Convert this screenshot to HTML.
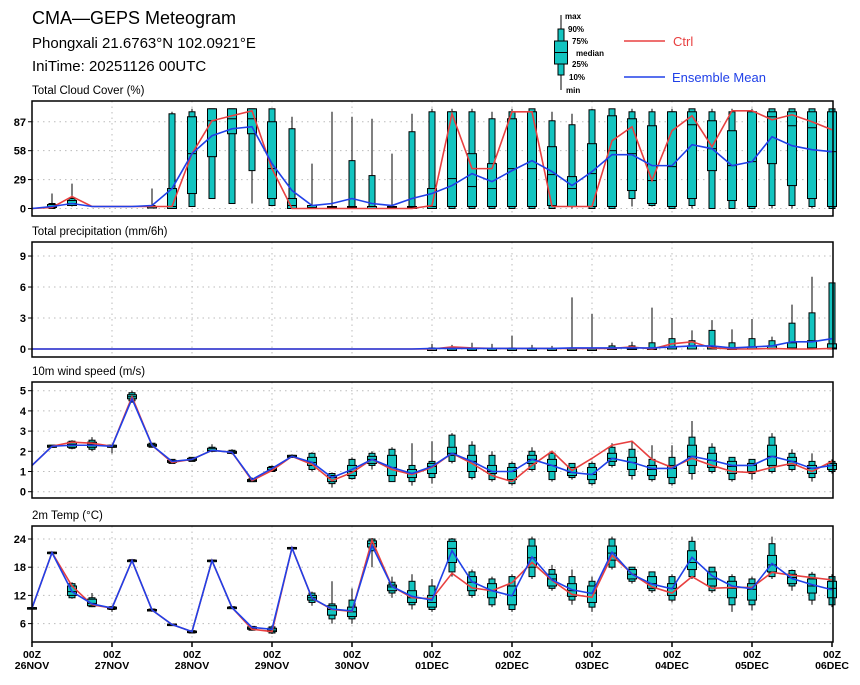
<!DOCTYPE html>
<html><head><meta charset="utf-8"><style>
body{margin:0;background:#fff}
svg text{font-family:"Liberation Sans",sans-serif}
</style></head><body>
<svg id="c" width="860" height="680" viewBox="0 0 860 680" xmlns="http://www.w3.org/2000/svg">
<g>
<text x="32" y="24" font-size="18">CMA—GEPS Meteogram</text>
<text x="32" y="48" font-size="15">Phongxali 21.6763°N 102.0921°E</text>
<text x="32" y="71" font-size="15">IniTime: 20251126 00UTC</text>
</g>
<g font-size="8" font-weight="bold">
<line x1="561" y1="15" x2="561" y2="90" stroke="#000"/>
<rect x="558" y="29" width="6" height="46" fill="#13c4c0" stroke="#000"/>
<rect x="554.5" y="41" width="13" height="23" fill="#13c4c0" stroke="#000"/>
<line x1="554.5" y1="52.5" x2="567.5" y2="52.5" stroke="#000"/>
<text x="565" y="19">max</text>
<text x="568" y="32">90%</text>
<text x="572" y="44">75%</text>
<text x="576" y="56">median</text>
<text x="572" y="67">25%</text>
<text x="569" y="80">10%</text>
<text x="566" y="93">min</text>
<line x1="624" y1="41" x2="665" y2="41" stroke="#e84040" stroke-width="1.5"/>
<text x="673" y="46" font-size="13" font-weight="normal" fill="#e84040">Ctrl</text>
<line x1="624" y1="77" x2="665" y2="77" stroke="#2040e8" stroke-width="1.5"/>
<text x="672" y="82" font-size="13" font-weight="normal" fill="#2040e8">Ensemble Mean</text>
</g>
</svg>
<script>
// ---- Data ----
const dayLabels = ["26NOV","27NOV","28NOV","29NOV","30NOV","01DEC","02DEC","03DEC","04DEC","05DEC","06DEC"];
const N = null;
const ccCtrl = [0,1,12,2,2,2,2,2,55,88,93,98,40,0,0,0,0,0,0,0,3,95,40,40,97,97,2,2,2,68,82,28,78,93,62,98,98,89,94,87,79];
const ccMean = [0,2,5,2,2,2,3,20,55,73,80,82,45,18,3,5,10,5,3,10,15,23,35,27,38,48,37,23,37,54,54,43,43,64,60,43,47,72,63,59,57];
const ccBox = [N,[0,0,1,2,4,5,15],[2,3,3,5,8,10,25],N,N,N,[2,2,2,2,2,3,20],[0,0,0,2,20,95,97],[2,2,15,55,92,97,100],[10,10,52,88,100,100,100],[5,5,75,90,100,100,100],[5,38,75,90,100,100,100],[3,3,10,40,87,100,100],[0,0,0,3,10,80,92],[0,0,0,1,3,3,45],[0,0,0,1,2,2,97],[0,0,0,1,2,48,92],[0,0,0,0,2,33,90],[0,0,0,1,2,2,55],[0,0,0,1,2,77,95],[0,0,0,2,20,97,100],[0,0,2,30,97,97,100],[0,0,2,22,55,97,100],[0,0,2,20,45,90,97],[0,0,2,40,90,97,100],[0,0,2,40,97,100,100],[0,0,3,34,62,88,97],[0,2,2,20,32,84,95],[0,0,2,35,65,99,100],[0,0,2,58,93,100,100],[2,10,18,55,90,97,100],[2,3,5,28,83,97,100],[0,0,2,42,97,97,100],[0,3,10,84,97,100,100],[0,0,38,60,88,97,100],[0,0,8,43,78,97,100],[0,0,2,47,97,97,100],[0,3,45,92,97,100,100],[0,3,23,83,97,100,100],[0,2,10,81,97,100,100],[0,0,2,57,97,100,100]];
const ccTicks = [0,29,58,87];

const prCtrl = [0,0,0,0,0,0,0,0,0,0,0,0,0,0,0,0,0,0,0,0,0,0.2,0.1,0.05,0.05,0.05,0.05,0.05,0.05,0.05,0.2,0,0.5,0.7,0.1,0,0,0.05,0,0,0.05];
const prMean = [0,0,0,0,0,0,0,0,0,0,0,0,0,0,0,0,0,0,0,0,0.05,0.05,0.05,0.05,0.05,0.05,0.05,0.1,0.1,0.1,0.1,0.1,0.2,0.3,0.3,0.1,0.2,0.3,0.7,0.7,1.0];
const prBox = [N,N,N,N,N,N,N,N,N,N,N,N,N,N,N,N,N,N,N,N,[0,0,0,0,0,0.1,0.5],[0,0,0,0,0,0.1,0.4],[0,0,0,0,0,0,0.6],[0,0,0,0,0,0,0.5],[0,0,0,0,0,0.1,1.3],[0,0,0,0,0,0.1,0.4],[0,0,0,0,0,0,0.3],[0,0,0,0,0,0.1,5.0],[0,0,0,0,0,0,3.4],[0,0,0,0,0.1,0.3,0.6],[0,0,0,0,0.1,0.3,0.7],[0,0,0,0,0.1,0.6,4.0],[0,0,0,0,0.2,1.0,3.0],[0,0,0,0,0.3,0.8,1.8],[0,0,0,0,0.2,1.8,2.8],[0,0,0,0,0.1,0.6,1.9],[0,0,0,0,0.2,1.0,2.9],[0,0,0,0,0.3,0.8,1.2],[0,0,0,0.1,0.6,2.5,4.3],[0,0,0,0.1,0.8,3.5,7.0],[0,0,0,0.1,0.5,6.4,6.4]];
const prTicks = [0,3,6,9];

const wsCtrl = [1.3,2.25,2.45,2.4,2.25,4.7,2.3,1.45,1.6,2.05,1.95,0.55,1.05,1.75,1.35,0.55,0.95,1.6,1.1,0.85,1.2,1.9,1.4,0.8,0.5,1.3,2.0,1.05,1.65,2.3,2.5,1.6,1.2,1.65,1.3,1.0,0.95,1.2,1.4,1.0,1.5];
const wsMean = [1.3,2.25,2.3,2.3,2.25,4.6,2.3,1.5,1.6,2.05,1.95,0.6,1.15,1.75,1.45,0.7,1.1,1.6,1.2,0.9,1.25,1.9,1.5,1.0,1.0,1.6,1.3,0.95,0.85,1.65,1.45,1.15,1.15,1.75,1.55,1.3,1.3,1.75,1.5,1.15,1.3];
const wsBox = [N,[2.2,2.2,2.2,2.25,2.3,2.3,2.3],[2.1,2.15,2.2,2.35,2.45,2.5,2.55],[2.0,2.1,2.2,2.35,2.45,2.55,2.7],[1.9,2.2,2.2,2.25,2.3,2.3,2.3],[4.4,4.5,4.6,4.7,4.8,4.9,5.0],[2.2,2.2,2.25,2.3,2.35,2.4,2.4],[1.4,1.4,1.45,1.5,1.55,1.6,1.6],[1.5,1.5,1.55,1.6,1.65,1.7,1.7],[1.95,2.0,2.0,2.05,2.15,2.2,2.35],[1.85,1.9,1.9,1.95,2.0,2.05,2.1],[0.5,0.5,0.5,0.55,0.6,0.65,0.7],[1.0,1.0,1.05,1.1,1.2,1.25,1.3],[1.7,1.7,1.7,1.75,1.8,1.8,1.85],[1.0,1.1,1.3,1.45,1.7,1.9,1.95],[0.2,0.4,0.5,0.7,0.8,0.9,0.95],[0.6,0.65,0.8,1.0,1.3,1.6,1.7],[1.1,1.3,1.4,1.6,1.75,1.9,2.0],[0.5,0.5,0.8,1.2,1.8,2.1,2.2],[0.3,0.5,0.7,0.9,1.1,1.3,2.4],[0.4,0.7,0.9,1.25,1.4,1.5,2.5],[1.4,1.5,1.8,1.9,2.2,2.8,2.9],[0.6,0.7,1.0,1.5,1.8,2.3,2.5],[0.5,0.6,0.9,1.0,1.3,1.8,2.0],[0.3,0.4,0.6,1.0,1.2,1.4,1.5],[1.0,1.1,1.4,1.6,1.8,2.0,2.2],[0.5,0.6,1.0,1.3,1.6,1.9,2.0],[0.6,0.7,0.8,0.95,1.2,1.4,1.4],[0.3,0.4,0.6,0.85,1.2,1.4,1.5],[1.2,1.3,1.5,1.65,1.9,2.2,2.4],[0.6,0.8,1.1,1.45,1.7,2.1,2.5],[0.5,0.6,0.8,1.1,1.3,1.6,2.3],[0.3,0.4,0.7,1.15,1.3,1.7,2.3],[0.6,0.9,1.3,1.75,2.3,2.7,3.5],[0.9,1.0,1.2,1.55,1.9,2.2,2.4],[0.5,0.6,0.9,1.25,1.5,1.7,1.7],[0.6,0.9,1.0,1.3,1.4,1.6,1.6],[0.9,1.0,1.3,1.75,2.3,2.7,2.9],[1.0,1.1,1.3,1.5,1.7,1.9,2.1],[0.5,0.7,0.9,1.15,1.3,1.5,1.9],[0.9,1.0,1.1,1.3,1.4,1.5,1.6]];
const wsTicks = [0,1,2,3,4,5];

const tCtrl = [9.3,21.1,14,10,9.3,19.4,8.9,5.8,4.3,19.4,9.4,4.8,4.3,22.1,11.4,9,8.6,23.7,13.9,11.5,11.3,16.7,13.6,13.0,14.7,19,15.2,12.2,11.6,20.5,16.6,13.8,12.5,16.0,13.5,13.7,13.7,16.9,16.3,15.8,15.3];
const tMean = [9.3,21.1,12.8,10.2,9.3,19.4,8.9,5.8,4.3,19.4,9.4,5.2,4.8,22.1,11.4,9.1,8.7,22.6,13.9,11.8,11.0,21.5,14.9,13.0,11.9,20.2,15.3,13.2,12.4,21.2,16.5,14.4,13.4,20.1,16.2,14.0,13.4,18.8,15.6,14.3,13.2];
const tBox = [[9.2,9.2,9.2,9.3,9.4,9.4,9.4],[21,21,21,21.1,21.2,21.2,21.2],[11.3,11.5,12,12.8,14,14.5,14.8],[9.5,9.6,9.8,10.3,11.2,11.5,12.5],[8.5,9,9.1,9.3,9.5,9.6,9.8],[19.2,19.2,19.3,19.4,19.5,19.6,19.6],[8.5,8.7,8.8,8.9,9,9.1,9.2],[5.6,5.6,5.7,5.8,5.9,5.9,6.0],[4,4,4.1,4.2,4.4,4.5,4.5],[19.3,19.3,19.4,19.4,19.5,19.5,19.6],[9.1,9.2,9.3,9.4,9.5,9.6,9.7],[4.5,4.6,4.8,5.0,5.3,5.4,5.5],[3.8,4,4.3,4.6,5,5.3,5.6],[21.8,21.9,22,22.1,22.2,22.2,22.3],[9.8,10.5,11,11.5,12,12.5,12.8],[6,7,7.8,9,9.8,10.2,15],[6,7,7.5,8.5,9.5,11,13.5],[18,21.5,22.3,23,23.6,24,24.2],[11.5,12.5,13,13.8,14.2,14.8,16],[9,10,10.5,11.5,13,15,16.5],[8.5,9,9.5,10.5,12,14,15.5],[16,17,19,22,23.5,24,24.2],[11.5,12,13,14.8,16,17,17.5],[9.5,10,11.5,13,14.5,15.5,16],[8.5,9,10,12,14,16,16.5],[15.5,16,18,20,22.5,24,24.5],[13,13.5,14,15.5,16.5,17.5,18.5],[10,11,11.8,13,14.5,16,17.5],[8.5,9.5,10.5,12.5,14,15,16],[17.5,18,19.5,21,22.5,24,24.5],[14.5,15,15.5,16.5,17.5,18,18],[12.5,13,13.5,14.5,16,17,17],[10.5,11,12,13.5,14.5,16,16.5],[15.5,16,17.5,19,21.5,23.5,24.5],[12.5,13,14,15.5,17,18,18],[8.5,10,11.5,13.5,15,16,16.5],[8.8,10,11,13.3,14.5,15.5,16],[15.5,16,17,18.5,20.5,23,24.5],[13,14,14.5,15.8,16.5,17.3,17.5],[10,11,12.5,14,15.5,16.5,17],[9.5,10,11.5,13.5,15,16,16.5]];
const tTicks = [6,12,18,24];

// ---- Drawing ----
const svg = document.getElementById('c');
const NS = 'http://www.w3.org/2000/svg';
const X0 = 32, X1 = 833, DX = 20;
function xs(i){ return X0 + DX*i; }
function mk(tag, attrs, parent){
  const e = document.createElementNS(NS, tag);
  for (const k in attrs) e.setAttribute(k, attrs[k]);
  (parent||svg).appendChild(e);
  return e;
}
function panel(key, title, top, bottom, ys, ticks, box, ctrl, mean, isLast){
  const g = mk('g', {});
  
  
  const t = mk('text', {x: 32, y: top - 7, 'font-size': 11.5}, g);
  t.textContent = title;
  
  
  // grid
  ticks.forEach(v => {
    const y = ys(v);
    const gl = mk('line', {x1: X0, x2: X1, y1: y, y2: y, stroke: '#bbb', 'stroke-dasharray': '1.5,4'}, g);
    
    
    const tk = mk('line', {x1: X0 - 4, x2: X0, y1: y, y2: y, stroke: '#000'}, g);
    
    
    const lb = mk('text', {x: X0 - 6, y: y + 4, 'font-size': 11, 'font-weight': 'bold', 'text-anchor': 'end'}, g);
    lb.textContent = v;
    
    
  });
  dayLabels.forEach((d, k) => {
    const x = xs(k*4);
    if (k > 0 && k < 10) {
      const gl = mk('line', {x1: x, x2: x, y1: top, y2: bottom, stroke: '#bbb', 'stroke-dasharray': '1.5,4'}, g);
      
      
    }
  });
  // boxes
  box.forEach((b, i) => {
    if (!b) return;
    const x = xs(i);
    const bg = mk('g', {}, g);
    
    
    mk('line', {x1: x, x2: x, y1: ys(b[0]), y2: ys(b[6]), stroke: '#000', 'stroke-width': 1}, bg);
    const y90 = ys(b[5]), y10 = ys(b[1]);
    mk('rect', {x: x - 3, y: y90, width: 6, height: Math.max(1.5, y10 - y90), fill: '#13c4c0', stroke: '#000', 'stroke-width': 1}, bg);
    const y75 = ys(b[4]), y25 = ys(b[2]);
    mk('rect', {x: x - 4.5, y: y75, width: 9, height: Math.max(1.5, y25 - y75), fill: '#13c4c0', stroke: '#000', 'stroke-width': 1}, bg);
    mk('line', {x1: x - 4.5, x2: x + 4.5, y1: ys(b[3]), y2: ys(b[3]), stroke: '#000', 'stroke-width': 1}, bg);
  });
  // lines
  const p1 = ctrl.map((v, i) => xs(i) + ',' + ys(v)).join(' ');
  const l1 = mk('polyline', {points: p1, fill: 'none', stroke: '#e84040', 'stroke-width': 1.6}, g);
  
  
  const p2 = mean.map((v, i) => xs(i) + ',' + ys(v)).join(' ');
  const l2 = mk('polyline', {points: p2, fill: 'none', stroke: '#2040e8', 'stroke-width': 1.6}, g);
  
  
  // frame
  const fr = mk('rect', {x: X0, y: top, width: X1 - X0, height: bottom - top, fill: 'none', stroke: '#000', 'stroke-width': 1.5}, g);
  
  
  if (isLast) {
    dayLabels.forEach((d, k) => {
      const x = xs(k*4);
      const tk = mk('line', {x1: x, x2: x, y1: bottom, y2: bottom + 5, stroke: '#000', 'stroke-width': 1.5}, g);
      
      
      const a = mk('text', {x: x, y: bottom + 16, 'font-size': 10.5, 'font-weight': 'bold', 'text-anchor': 'middle'}, g);
      a.textContent = '00Z';
      
      
      const b = mk('text', {x: x, y: bottom + 27, 'font-size': 10.5, 'font-weight': 'bold', 'text-anchor': 'middle'}, g);
      b.textContent = d;
      
      
    });
  }
}
panel('cloud', 'Total Cloud Cover (%)', 101, 216, v => 208.5 - v*0.997, ccTicks, ccBox, ccCtrl, ccMean, false);
panel('precip', 'Total precipitation (mm/6h)', 242, 357, v => 349 - v*10.33, prTicks, prBox, prCtrl, prMean, false);
panel('wind', '10m wind speed (m/s)', 382, 498, v => 491.7 - v*20.2, wsTicks, wsBox, wsCtrl, wsMean, false);
panel('temp', '2m Temp (°C)', 526, 642, v => 539 + (24 - v)*4.7, tTicks, tBox, tCtrl, tMean, true);
</script>
</body></html>
